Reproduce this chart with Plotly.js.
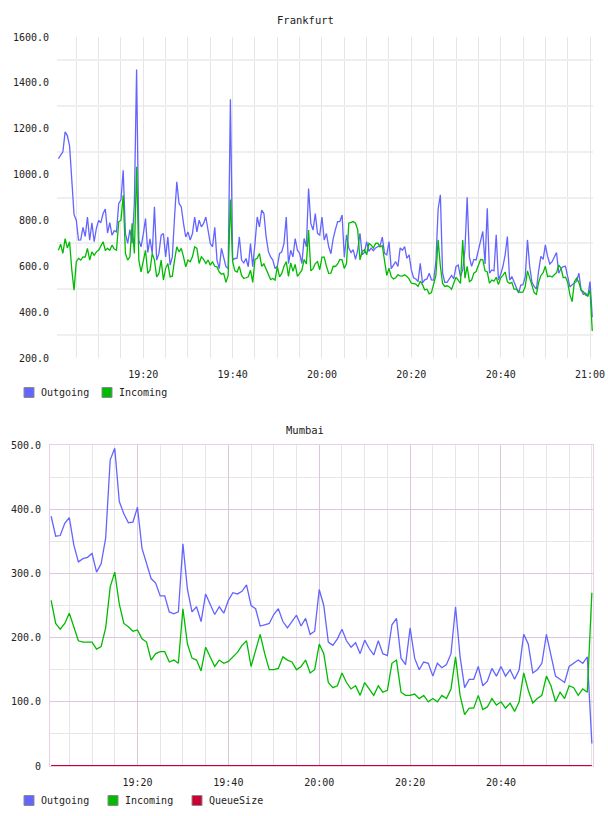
<!DOCTYPE html>
<html>
<head>
<meta charset="utf-8">
<script src="https://cdn.plot.ly/plotly-3.0.1.min.js"></script>
<style>
  html, body { margin: 0; padding: 0; background: #ffffff; }
  #chart { width: 608px; height: 816px; }
</style>
</head>
<body>
<div id="chart"></div>
<script>
// ---- Frankfurt: samples every 30 s starting 19:01:00 ----
const frankStart = '2024-01-01 19:01:00';
const frankStepSec = 30;
const frankOutgoing = [
  1070, 1085, 1099, 1186, 1170, 1125, 947, 825, 801, 714,
  715, 770, 730, 815, 714, 790, 707, 765, 800, 790,
  830, 850, 745, 790, 735, 755, 750, 874, 890, 1019,
  743, 700, 760, 700, 874, 1458, 714, 685, 740, 808,
  660, 720, 656, 859, 627, 656, 736, 743, 641, 728,
  605, 641, 815, 968, 874, 859, 787, 728, 750, 714,
  743, 815, 750, 801, 772, 787, 815, 760, 699, 685,
  770, 627, 590, 678, 640, 598, 590, 1328, 627, 634,
  635, 728, 627, 615, 634, 598, 699, 598, 700, 815,
  772, 845, 830, 728, 665, 641, 627, 590, 600, 656,
  663, 700, 815, 612, 670, 641, 721, 670, 656, 612,
  721, 685, 939, 787, 758, 830, 743, 736, 815, 714,
  743, 685, 655, 720, 760, 795, 795, 824, 640, 737,
  680, 660, 672, 630, 672, 744, 650, 660, 708, 665,
  679, 668, 680, 686, 690, 727, 657, 650, 708, 590,
  606, 620, 599, 680, 670, 686, 635, 650, 584, 550,
  545, 533, 613, 528, 541, 545, 570, 541, 540, 620,
  850, 912, 570, 530, 530, 548, 560, 545, 599, 605,
  555, 584, 672, 901, 640, 600, 630, 628, 670, 720,
  752, 610, 853, 570, 584, 580, 737, 540, 565, 599,
  650, 730, 540, 555, 530, 510, 483, 518, 520, 555,
  715, 599, 530, 512, 500, 580, 643, 630, 693, 643,
  610, 620, 643, 660, 570, 590, 599, 600, 555, 510,
  519, 526, 535, 570, 497, 478, 483, 470, 533, 378
];
const frankIncoming = [
  670, 696, 656, 721, 680, 707, 583, 496, 620, 634,
  627, 641, 640, 678, 627, 663, 648, 663, 670, 692,
  707, 670, 678, 670, 692, 675, 670, 794, 801, 910,
  656, 627, 641, 787, 656, 1034, 627, 576, 620, 670,
  569, 583, 656, 627, 554, 569, 627, 540, 591, 612,
  554, 557, 627, 685, 663, 678, 641, 598, 627, 620,
  641, 685, 678, 612, 641, 630, 612, 627, 605, 620,
  600, 598, 575, 565, 569, 530, 560, 891, 620, 580,
  575, 600, 560, 547, 550, 554, 583, 530, 630, 635,
  656, 600, 610, 588, 560, 542, 547, 540, 600, 554,
  569, 600, 620, 556, 615, 578, 608, 556, 569, 583,
  630, 610, 758, 580, 590, 612, 620, 585, 640, 640,
  600, 569, 570, 600, 599, 610, 630, 628, 590, 613,
  788, 790, 795, 788, 759, 628, 665, 672, 650, 700,
  693, 680, 700, 701, 685, 690, 621, 560, 592, 555,
  545, 550, 563, 558, 557, 563, 555, 545, 526, 524,
  522, 512, 535, 520, 497, 500, 480, 485, 520, 560,
  715, 600, 525, 512, 515, 510, 500, 525, 552, 540,
  525, 715, 548, 600, 533, 540, 570, 577, 605, 630,
  628, 580, 575, 526, 540, 535, 552, 520, 550, 560,
  575, 533, 525, 530, 500, 500, 490, 486, 488, 512,
  580, 550, 510, 485, 478, 530, 560, 572, 600, 555,
  558, 553, 563, 572, 605, 592, 550, 553, 530, 475,
  446, 533, 548, 530, 495, 490, 475, 470, 497, 318
];
const frankYTicks = [200, 400, 600, 800, 1000, 1200, 1400, 1600];
const frankYLabels = ['200.0', '400.0', '600.0', '800.0', '1000.0', '1200.0', '1400.0', '1600.0'];
const frankYGrid = [300, 500, 700, 900, 1100, 1300, 1500];
const frankTimeTicks = ['19:20', '19:40', '20:00', '20:20', '20:40', '21:00'];
const frankSeriesNames = ['Outgoing', 'Incoming'];

// ---- Mumbai: samples every minute starting 19:01 ----
const mumbaiStart = '2024-01-01 19:01:00';
const mumbaiStepSec = 60;
const mumbaiOutgoing = [
  389, 358, 359, 378, 387, 344, 318, 323, 325, 331,
  302, 315, 355, 477, 495, 412, 393, 379, 380, 403,
  339, 317, 292, 285, 265, 265, 240, 237, 240, 346,
  275, 240, 248, 225, 268, 252, 236, 248, 238, 258,
  270, 268, 272, 282, 250, 245, 218, 220, 222, 236,
  245, 225, 215, 225, 235, 218, 230, 205, 210, 275,
  250, 193, 188, 198, 213, 195, 185, 192, 175, 196,
  183, 173, 195, 175, 172, 220, 230, 168, 158, 215,
  168, 150, 162, 160, 140, 160, 153, 158, 175, 248,
  170, 122, 135, 135, 155, 125, 132, 152, 140, 155,
  140, 150, 135, 150, 205, 190, 145, 150, 160, 205,
  170, 140, 135, 130, 155, 160, 165, 160, 170, 35
];
const mumbaiIncoming = [
  258, 222, 213, 222, 238, 215, 195, 193, 193, 193,
  182, 186, 215, 279, 302, 252, 222, 217, 210, 212,
  198, 193, 165, 175, 178, 178, 162, 165, 160, 245,
  190, 168, 165, 148, 185, 170, 155, 165, 160, 163,
  170, 177, 188, 195, 155, 180, 205, 175, 150, 150,
  152, 170, 165, 162, 150, 155, 165, 145, 150, 190,
  175, 130, 122, 125, 145, 130, 120, 125, 110, 130,
  120, 110, 125, 115, 118, 160, 165, 115, 110, 110,
  112, 105, 110, 100, 105, 100, 110, 105, 120, 170,
  110, 80, 90, 90, 110, 88, 92, 105, 95, 100,
  90, 98, 85, 100, 145, 118, 98, 105, 110, 140,
  125, 100, 115, 105, 125, 122, 110, 120, 115, 270
];
const mumbaiQueueSize = [
  0, 0, 0, 0, 0, 0, 0, 0, 0, 0,
  0, 0, 0, 0, 0, 0, 0, 0, 0, 0,
  0, 0, 0, 0, 0, 0, 0, 0, 0, 0,
  0, 0, 0, 0, 0, 0, 0, 0, 0, 0,
  0, 0, 0, 0, 0, 0, 0, 0, 0, 0,
  0, 0, 0, 0, 0, 0, 0, 0, 0, 0,
  0, 0, 0, 0, 0, 0, 0, 0, 0, 0,
  0, 0, 0, 0, 0, 0, 0, 0, 0, 0,
  0, 0, 0, 0, 0, 0, 0, 0, 0, 0,
  0, 0, 0, 0, 0, 0, 0, 0, 0, 0,
  0, 0, 0, 0, 0, 0, 0, 0, 0, 0,
  0, 0, 0, 0, 0, 0, 0, 0, 0, 0
];
const mumbaiYTicks = [0, 100, 200, 300, 400, 500];
const mumbaiYLabels = ['0', '100.0', '200.0', '300.0', '400.0', '500.0'];
const mumbaiTimeTicks = ['19:20', '19:40', '20:00', '20:20', '20:40'];
const mumbaiSeriesNames = ['Outgoing', 'Incoming', 'QueueSize'];

// ---- helpers ----
const DAY = '2024-01-01 ';
function timeAxis(start, stepSec, n) {
  const t0 = Date.parse(start.replace(' ', 'T') + 'Z');
  const out = [];
  for (let i = 0; i < n; i++) out.push(t0 + i * stepSec * 1000);
  return out;
}
const clockVals = labels => labels.map(l => DAY + l + ':00');

const SERIES_COLORS = { Outgoing: '#6464ff', Incoming: '#00bb00', QueueSize: '#cc0033' };
const FONT = 'DejaVu Sans Mono, monospace';

const frankX = timeAxis(frankStart, frankStepSec, frankOutgoing.length);
const mumbaiX = timeAxis(mumbaiStart, mumbaiStepSec, mumbaiOutgoing.length);

function series(name, x, y, width, xa, ya) {
  return {
    type: 'scatter', mode: 'lines', name: name, x: x, y: y, xaxis: xa, yaxis: ya,
    showlegend: false, line: { color: SERIES_COLORS[name], width: width }, hoverinfo: 'skip'
  };
}

const data = [
  series('Outgoing', frankX, frankOutgoing, 1.3, 'x', 'y'),
  series('Incoming', frankX, frankIncoming, 1.3, 'x', 'y'),
  series('Outgoing', mumbaiX, mumbaiOutgoing, 1.3, 'x2', 'y2'),
  series('Incoming', mumbaiX, mumbaiIncoming, 1.3, 'x2', 'y2'),
  series('QueueSize', mumbaiX, mumbaiQueueSize, 2.2, 'x2', 'y2')
];

const W = 608, H = 816;
const px = v => v / W;
const py = v => 1 - v / H;
const hiddenTicks = { ticks: 'outside', tickcolor: 'rgba(0,0,0,0)' };

// Key boxes under each chart: a colour swatch followed by the series name.
const shapes = [];
const annotations = [];
function addKey(names, top, pitch) {
  names.forEach((name, i) => {
    const left = 24 + i * pitch;
    shapes.push({
      type: 'rect', xref: 'paper', yref: 'paper',
      x0: px(left), x1: px(left + 10), y0: py(top + 10), y1: py(top),
      fillcolor: SERIES_COLORS[name], line: { color: '#8a8a8a', width: 1 }, layer: 'above'
    });
    annotations.push({
      text: name, xref: 'paper', yref: 'paper', x: px(left + 15), y: py(top + 5),
      xanchor: 'left', yanchor: 'middle', showarrow: false,
      font: { family: FONT, size: 10, color: '#222222' }
    });
  });
}
addKey(frankSeriesNames, 387.5, 78);
addKey(mumbaiSeriesNames, 795.5, 84);

annotations.push(
  { text: 'Frankfurt', xref: 'paper', yref: 'paper', x: px(305), y: py(20),
    xanchor: 'center', yanchor: 'middle', showarrow: false, font: { family: FONT, size: 10.5 } },
  { text: 'Mumbai', xref: 'paper', yref: 'paper', x: px(305), y: py(430),
    xanchor: 'center', yanchor: 'middle', showarrow: false, font: { family: FONT, size: 10.5 } }
);

const layout = {
  width: W, height: H,
  margin: { l: 0, r: 0, t: 0, b: 0 },
  paper_bgcolor: '#ffffff', plot_bgcolor: 'rgba(0,0,0,0)',
  font: { family: FONT, size: 10, color: '#222222' },
  showlegend: false,
  hovermode: false,

  // Frankfurt
  xaxis: Object.assign({
    type: 'date', domain: [px(57), px(593)], anchor: 'y',
    range: [DAY + '19:00:41', DAY + '21:00:40'],
    tickmode: 'array', tickvals: clockVals(frankTimeTicks), ticktext: frankTimeTicks,
    ticklen: 7, showgrid: true, gridcolor: '#e6e6e6', gridwidth: 1,
    minor: { tick0: DAY + '19:00:00', dtick: 300000, showgrid: true, gridcolor: '#e6e6e6', gridwidth: 1 },
    zeroline: false, showline: false, fixedrange: true
  }, hiddenTicks),
  yaxis: Object.assign({
    domain: [py(358), py(37)], anchor: 'x', range: [200, 1600],
    tickmode: 'array', tickvals: frankYTicks, ticktext: frankYLabels, ticklen: 5,
    showgrid: false, zeroline: false, showline: false, fixedrange: true,
    minor: { tickmode: 'array', tickvals: frankYGrid, ticks: '', showgrid: true, gridcolor: '#efefef', gridwidth: 2 }
  }, hiddenTicks),

  // Mumbai
  xaxis2: Object.assign({
    type: 'date', domain: [px(50), px(593)], anchor: 'y2',
    range: [DAY + '19:00:45', DAY + '21:00:15'],
    tickmode: 'array', tickvals: clockVals(mumbaiTimeTicks), ticktext: mumbaiTimeTicks,
    ticklen: 7, showgrid: true, gridcolor: '#dcc6dc', gridwidth: 1,
    minor: { tick0: DAY + '19:00:00', dtick: 300000, showgrid: true, gridcolor: '#e6e6e6', gridwidth: 1 },
    zeroline: false, showline: true, mirror: true, linecolor: '#e6d0e6', linewidth: 1, fixedrange: true
  }, hiddenTicks),
  yaxis2: Object.assign({
    domain: [py(766), py(445)], anchor: 'x2', range: [0, 500],
    tickmode: 'array', tickvals: mumbaiYTicks, ticktext: mumbaiYLabels, ticklen: 6,
    showgrid: true, gridcolor: '#dcc6dc', gridwidth: 1,
    minor: { dtick: 50, showgrid: true, gridcolor: '#e6e6e6', gridwidth: 1 },
    zeroline: false, showline: true, mirror: true, linecolor: '#e6d0e6', linewidth: 1, fixedrange: true
  }, hiddenTicks),

  shapes: shapes,
  annotations: annotations
};

Plotly.newPlot('chart', data, layout, { staticPlot: true, displayModeBar: false });
</script>
</body>
</html>
